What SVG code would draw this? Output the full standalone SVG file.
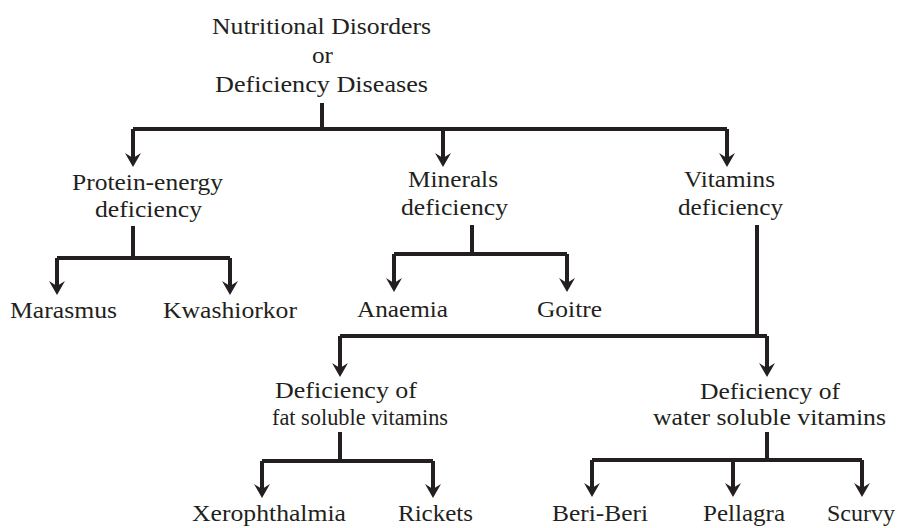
<svg xmlns="http://www.w3.org/2000/svg" width="903" height="528" viewBox="0 0 903 528">
<style>
text{font-family:"Liberation Serif","Times New Roman",serif;font-size:24px;fill:#231f20;}
.c path{fill:none;stroke:#231f20;stroke-width:4;}
.c path.a{marker-end:url(#arr);}
</style>
<defs>
<marker id="arr" markerUnits="userSpaceOnUse" viewBox="-12 -9 18 18" markerWidth="18" markerHeight="18" refX="0" refY="0" orient="auto">
<path d="M4,0 L-10,-8 L-5,0 L-10,8 Z" fill="#231f20"/>
</marker>
</defs>
<rect width="903" height="528" fill="#ffffff"/>
<g class="c" id="connectors">
<path d="M322,103 V129"/>
<path class="a" d="M133,129 V163"/>
<path d="M133,129 H727"/>
<path class="a" d="M443,129 V163"/>
<path class="a" d="M727,129 V163"/>
<path d="M133,226 V258"/>
<path d="M57,258 H230"/>
<path class="a" d="M57,258 V291"/>
<path class="a" d="M230,258 V291"/>
<path d="M472,225 V254"/>
<path d="M394,254 H567"/>
<path class="a" d="M394,254 V288"/>
<path class="a" d="M567,254 V288"/>
<path d="M757,225 V336"/>
<path d="M340,336 H767"/>
<path class="a" d="M340,336 V373"/>
<path class="a" d="M767,336 V373"/>
<path d="M340,432 V461"/>
<path d="M262,461 H433"/>
<path class="a" d="M262,461 V494"/>
<path class="a" d="M433,461 V494"/>
<path d="M767,432 V460"/>
<path d="M592,460 H862"/>
<path class="a" d="M592,460 V493"/>
<path class="a" d="M733,460 V493"/>
<path class="a" d="M862,460 V493"/>
</g>
<g id="root">
<text x="212" y="34" textLength="219" lengthAdjust="spacingAndGlyphs">Nutritional Disorders</text>
<text x="312" y="63" textLength="21" lengthAdjust="spacingAndGlyphs">or</text>
<text x="215" y="92" textLength="213" lengthAdjust="spacingAndGlyphs">Deficiency Diseases</text>
</g>
<g id="protein">
<text x="72" y="190" textLength="151" lengthAdjust="spacingAndGlyphs">Protein-energy</text>
<text x="95" y="217" textLength="107" lengthAdjust="spacingAndGlyphs">deficiency</text>
</g>
<g id="minerals">
<text x="408" y="187" textLength="90" lengthAdjust="spacingAndGlyphs">Minerals</text>
<text x="401" y="215" textLength="107" lengthAdjust="spacingAndGlyphs">deficiency</text>
</g>
<g id="vitamins">
<text x="684" y="187" textLength="91" lengthAdjust="spacingAndGlyphs">Vitamins</text>
<text x="678" y="215" textLength="105" lengthAdjust="spacingAndGlyphs">deficiency</text>
</g>
<g id="marasmus"><text x="10" y="318" textLength="107" lengthAdjust="spacingAndGlyphs">Marasmus</text></g>
<g id="kwashiorkor"><text x="163" y="318" textLength="134" lengthAdjust="spacingAndGlyphs">Kwashiorkor</text></g>
<g id="anaemia"><text x="357" y="317" textLength="91" lengthAdjust="spacingAndGlyphs">Anaemia</text></g>
<g id="goitre"><text x="537" y="317" textLength="65" lengthAdjust="spacingAndGlyphs">Goitre</text></g>
<g id="fat">
<text x="275" y="398" textLength="142" lengthAdjust="spacingAndGlyphs">Deficiency of</text>
<text x="272" y="425" textLength="176" lengthAdjust="spacingAndGlyphs">fat soluble vitamins</text>
</g>
<g id="water">
<text x="700" y="399" textLength="140" lengthAdjust="spacingAndGlyphs">Deficiency of</text>
<text x="653" y="425" textLength="233" lengthAdjust="spacingAndGlyphs">water soluble vitamins</text>
</g>
<g id="xerophthalmia"><text x="192" y="521" textLength="154" lengthAdjust="spacingAndGlyphs">Xerophthalmia</text></g>
<g id="rickets"><text x="398" y="521" textLength="75" lengthAdjust="spacingAndGlyphs">Rickets</text></g>
<g id="beriberi"><text x="552" y="521" textLength="96" lengthAdjust="spacingAndGlyphs">Beri-Beri</text></g>
<g id="pellagra"><text x="703" y="521" textLength="82" lengthAdjust="spacingAndGlyphs">Pellagra</text></g>
<g id="scurvy"><text x="827" y="521" textLength="68" lengthAdjust="spacingAndGlyphs">Scurvy</text></g>
</svg>
